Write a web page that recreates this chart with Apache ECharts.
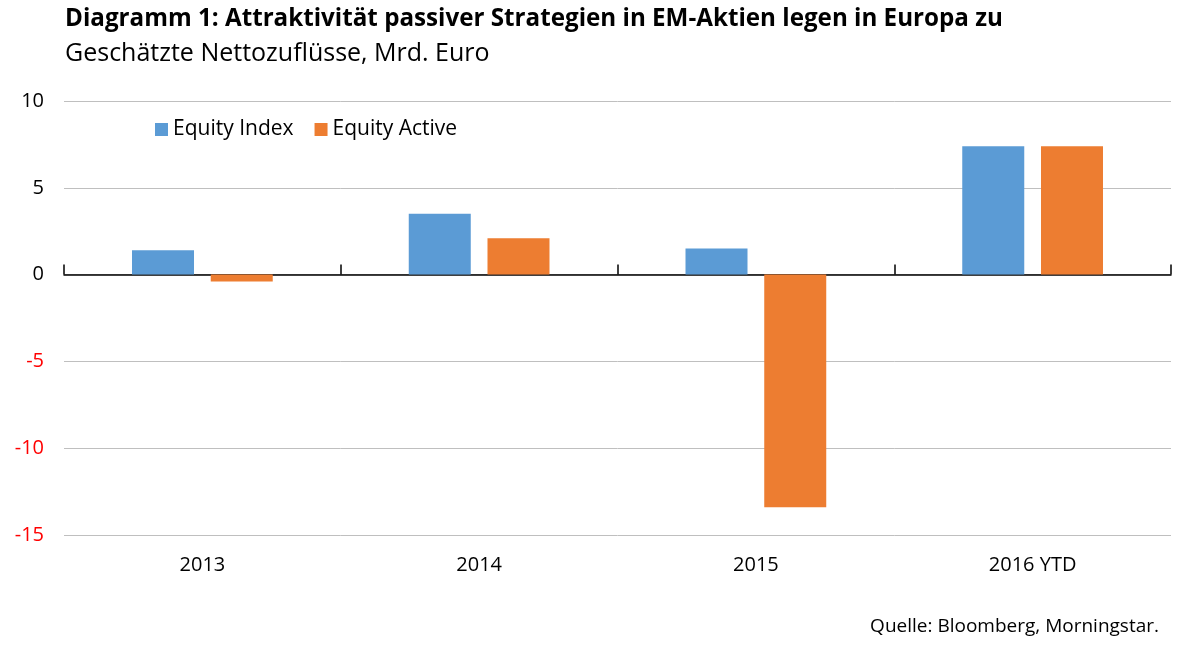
<!DOCTYPE html>
<html>
<head>
<meta charset="utf-8">
<script src="https://cdn.jsdelivr.net/npm/echarts@6/dist/echarts.min.js"></script>
<style>
  html, body { margin: 0; padding: 0; background: #fff; }
  #chart { width: 1180px; height: 648px; }
</style>
</head>
<body>
<div id="chart"></div>
<script>
  const categories = ['2013', '2014', '2015', '2016 YTD'];
  const equityIndex = [1.4, 3.5, 1.5, 7.4];
  const equityActive = [-0.4, 2.1, -13.4, 7.4];
  const yMin = -15, yMax = 10, yStep = 5;

  const FONT = '"Open Sans", Lato, sans-serif';
  const chart = echarts.init(document.getElementById('chart'));

  chart.setOption({
    animation: false,
    color: ['#5B9BD5', '#ED7D31'],
    textStyle: { fontFamily: FONT },
    title: [
      {
        text: 'Diagramm 1: Attraktivität passiver Strategien in EM-Aktien legen in Europa zu',
        left: 60, top: 2,
        textStyle: { fontFamily: FONT, fontSize: 24.2, fontWeight: 'bold', color: '#000' }
      },
      {
        text: 'Geschätzte Nettozuflüsse, Mrd. Euro',
        left: 60, top: 36,
        textStyle: { fontFamily: FONT, fontSize: 25, fontWeight: 'normal', color: '#000' }
      }
    ],
    legend: {
      left: 150, top: 114,
      icon: 'rect', itemWidth: 13, itemHeight: 13, itemGap: 21,
      textStyle: { fontFamily: FONT, fontSize: 21, color: '#000' },
      data: ['Equity Index', 'Equity Active']
    },
    grid: { left: 64, right: 9, top: 101, bottom: 113 },
    xAxis: [
      {
        type: 'category',
        data: categories,
        axisLine: { onZero: true, lineStyle: { color: '#000', width: 1.5 } },
        axisTick: { show: true, inside: true, length: 10, lineStyle: { color: '#000', width: 1.5 } },
        axisLabel: { show: false }
      },
      {
        type: 'category',
        data: categories,
        position: 'bottom',
        axisLine: { show: false, onZero: false },
        axisTick: { show: false },
        axisLabel: { margin: 20, fontFamily: FONT, fontSize: 20, color: '#000' }
      }
    ],
    yAxis: {
      type: 'value',
      min: yMin, max: yMax, interval: yStep,
      axisLine: { show: false },
      axisTick: { show: false },
      splitLine: { lineStyle: { color: '#bfbfbf', width: 1 } },
      axisLabel: {
        margin: 20,
        fontFamily: FONT, fontSize: 20,
        color: (v) => (Number(v) < 0 ? '#ff0000' : '#000')
      }
    },
    series: [
      { name: 'Equity Index', type: 'bar', data: equityIndex, barWidth: 62, barGap: '27%' },
      { name: 'Equity Active', type: 'bar', data: equityActive, barWidth: 62, barGap: '27%' }
    ],
    graphic: [
      {
        type: 'text', right: 21, top: 617,
        style: { text: 'Quelle: Bloomberg, Morningstar.', font: '19px ' + FONT, fill: '#000' }
      }
    ]
  });
</script>
</body>
</html>
